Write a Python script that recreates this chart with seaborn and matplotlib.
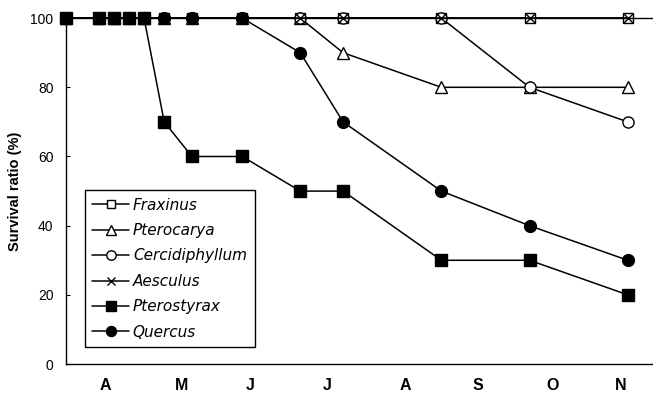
import matplotlib
matplotlib.use("Agg")
import matplotlib.pyplot as plt
import seaborn as sns
import numpy as np

# Sampling dates (days since 1 April)
days = [-3, 10, 16, 22, 28, 36, 47, 67, 90, 107, 146, 181, 220]

fraxinus       = [100, 100, 100, 100, 100, 100, 100, 100, 100, 100, 100, 100, 100]
pterocarya     = [100, 100, 100, 100, 100, 100, 100, 100, 100, 90, 80, 80, 80]
cercidiphyllum = [100, 100, 100, 100, 100, 100, 100, 100, 100, 100, 100, 80, 70]
aesculus       = [100, 100, 100, 100, 100, 100, 100, 100, 100, 100, 100, 100, 100]
pterostyrax    = [100, 100, 100, 100, 100, 70, 60, 60, 50, 50, 30, 30, 20]
quercus        = [100, 100, 100, 100, 100, 100, 100, 100, 90, 70, 50, 40, 30]

month_boundaries = [30, 61, 91, 122, 153, 183, 214]
month_label_pos = [12.5, 43, 70, 100.7, 131.7, 160.4, 190, 217]
month_labels = ["A", "M", "J", "J", "A", "S", "O", "N"]
y_ticks = [0, 20, 40, 60, 80, 100]

sns.set_style("white")
plt.rcParams["font.family"] = ["Liberation Sans", "DejaVu Sans"]
plt.rcParams["text.color"] = "black"
plt.rcParams["axes.labelcolor"] = "black"
plt.rcParams["xtick.color"] = "black"
plt.rcParams["ytick.color"] = "black"

fig = plt.figure(figsize=(6.53, 3.94), dpi=100)
ax = fig.add_axes([0.101, 0.076, 0.899, 0.878])

series = [
    ("Fraxinus", fraxinus, dict(marker="s", markersize=7, markerfacecolor="white")),
    ("Pterocarya", pterocarya, dict(marker="^", markersize=8, markerfacecolor="white")),
    ("Cercidiphyllum", cercidiphyllum, dict(marker="o", markersize=8, markerfacecolor="white")),
    ("Aesculus", aesculus, dict(marker="x", markersize=6.5, markerfacecolor="black")),
    ("Pterostyrax", pterostyrax, dict(marker="s", markersize=8.5, markerfacecolor="black")),
    ("Quercus", quercus, dict(marker="o", markersize=8.5, markerfacecolor="black")),
]

for name, vals, style in series:
    sns.lineplot(x=days, y=vals, ax=ax, label=name, color="black", linewidth=1.1,
                 markeredgecolor="black", markeredgewidth=1.0, clip_on=False,
                 errorbar=None, **style)

ax.set_xlim(-3, 230)
ax.set_ylim(0, 100)
ax.set_yticks(y_ticks)
ax.set_yticklabels([str(v) for v in y_ticks], fontsize=10)
ax.set_xticks(month_boundaries)
ax.set_xticklabels([])
ax.set_xticks(month_label_pos, minor=True)
ax.set_xticklabels(month_labels, minor=True, fontsize=11.5, fontweight="bold")
ax.tick_params(axis="x", which="major", direction="in", length=3, width=0.8, color="black")
ax.tick_params(axis="x", which="minor", length=0, pad=10)
ax.tick_params(axis="y", direction="in", length=3, width=0.8, pad=9, color="black", left=True)
ax.set_ylabel("Survival ratio (%)", fontsize=10.5, fontweight="bold", labelpad=6)
ax.set_xlabel("")

for side in ["left", "bottom", "top"]:
    ax.spines[side].set_visible(True)
    ax.spines[side].set_color("black")
    ax.spines[side].set_linewidth(1.0)
ax.spines["right"].set_visible(False)

leg = ax.legend(loc="upper left", bbox_to_anchor=(0.032, 0.503), frameon=True,
                fancybox=False, edgecolor="black", framealpha=1,
                prop={"style": "oblique", "size": 11, "family": ["DejaVu Sans"]},
                handlelength=2.4, labelspacing=0.68, borderpad=0.5,
                borderaxespad=0, handletextpad=0.25, markerscale=0.85)
leg.get_frame().set_linewidth(1.0)

fig.savefig("out.png", dpi=100)
